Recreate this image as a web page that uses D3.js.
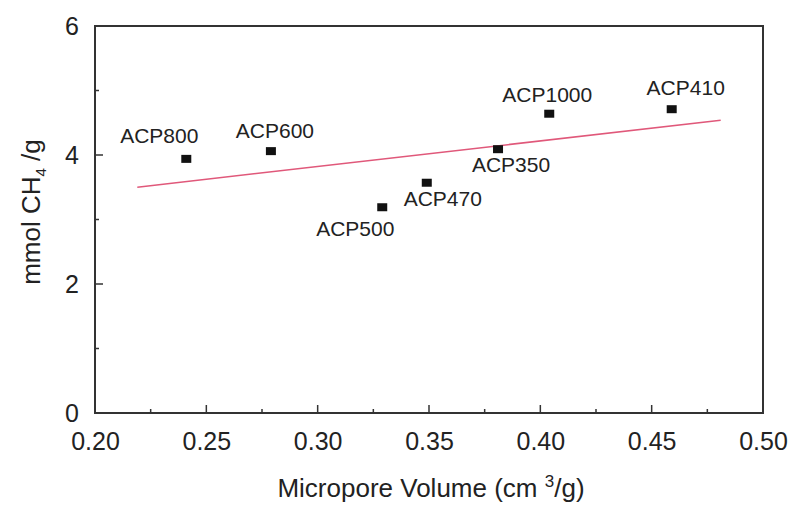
<!DOCTYPE html>
<html>
<head>
<meta charset="utf-8">
<script src="https://cdn.jsdelivr.net/npm/d3@7"></script>
<style>
  body { margin: 0; background: #fff; }
  text { font-family: "Liberation Sans", Arial, sans-serif; fill: #222; }
</style>
</head>
<body>
<div id="chart"></div>
<script>
// DATA
const samples = ["ACP800", "ACP600", "ACP500", "ACP470", "ACP350", "ACP1000", "ACP410"];
const microVolume = [0.241, 0.279, 0.329, 0.349, 0.381, 0.404, 0.459];
const ch4Uptake = [3.94, 4.06, 3.19, 3.57, 4.09, 4.64, 4.71];
// linear fit line end points
const fitX = [0.219, 0.481];
const fitY = [3.50, 4.54];
const xTicks = [0.20, 0.25, 0.30, 0.35, 0.40, 0.45, 0.50];
const yTicks = [0, 2, 4, 6];

// label placement relative to marker (px)
const labelOffset = [[-27, -16], [4, -13], [-27, 29], [16, 23], [13, 23], [-2, -12], [14, -14]];

const width = 793, height = 505;
const margin = {top: 26, right: 30, bottom: 92, left: 95};

const svg = d3.select("#chart").append("svg")
    .attr("width", width)
    .attr("height", height);

// SCALES
const xScale = d3.scaleLinear().domain([0.20, 0.50]).range([margin.left, width - margin.right]);
const yScale = d3.scaleLinear().domain([0, 6]).range([height - margin.bottom, margin.top]);

const x0 = xScale.range()[0], x1 = xScale.range()[1];
const y0 = yScale.range()[0], y1 = yScale.range()[1];

// frame
svg.append("rect")
    .attr("x", x0).attr("y", y1)
    .attr("width", x1 - x0).attr("height", y0 - y1)
    .attr("fill", "none").attr("stroke", "#333").attr("stroke-width", 2);

// AXES (ticks inside)
const xAxis = d3.axisBottom(xScale).tickValues(xTicks).tickSize(0).tickPadding(19)
    .tickFormat(d3.format(".2f"));
const xAxisGroup = svg.append("g")
    .attr("transform", `translate(0, ${y0})`)
    .call(xAxis);
xAxisGroup.select(".domain").remove();
xAxisGroup.selectAll("text").style("font-size", "25px").attr("fill", "#222");

const yAxis = d3.axisLeft(yScale).tickValues(yTicks).tickSize(0).tickPadding(16)
    .tickFormat(d3.format("d"));
const yAxisGroup = svg.append("g")
    .attr("transform", `translate(${x0}, 0)`)
    .call(yAxis);
yAxisGroup.select(".domain").remove();
yAxisGroup.selectAll("text").style("font-size", "25px").attr("fill", "#222");

// tick marks pointing inward
const xMinor = d3.range(0.225, 0.5, 0.05);
svg.append("g").selectAll("line")
    .data(xTicks.slice(1, -1).map(v => [v, 8]).concat(xMinor.map(v => [v, 4])))
    .join("line")
    .attr("x1", d => xScale(d[0])).attr("x2", d => xScale(d[0]))
    .attr("y1", y0).attr("y2", d => y0 - d[1])
    .attr("stroke", "#333").attr("stroke-width", 1.5);

const yMinor = [1, 3, 5];
svg.append("g").selectAll("line")
    .data(yTicks.slice(1, -1).map(v => [v, 8]).concat(yMinor.map(v => [v, 4])))
    .join("line")
    .attr("y1", d => yScale(d[0])).attr("y2", d => yScale(d[0]))
    .attr("x1", x0).attr("x2", d => x0 + d[1])
    .attr("stroke", "#333").attr("stroke-width", 1.5);

// FIT LINE
svg.append("line")
    .attr("x1", xScale(fitX[0])).attr("y1", yScale(fitY[0]))
    .attr("x2", xScale(fitX[1])).attr("y2", yScale(fitY[1]))
    .attr("stroke", "#e0587a").attr("stroke-width", 1.5);

// POINTS
svg.append("g").selectAll("rect")
    .data(samples)
    .join("rect")
    .attr("x", (d, i) => xScale(microVolume[i]) - 5)
    .attr("y", (d, i) => yScale(ch4Uptake[i]) - 4)
    .attr("width", 10).attr("height", 8)
    .attr("fill", "#111");

// LABELS
svg.append("g").selectAll("text")
    .data(samples)
    .join("text")
    .attr("x", (d, i) => xScale(microVolume[i]) + labelOffset[i][0])
    .attr("y", (d, i) => yScale(ch4Uptake[i]) + labelOffset[i][1])
    .attr("text-anchor", "middle")
    .style("font-size", "21px")
    .text(d => d);

// AXIS TITLES
const xt = svg.append("text")
    .attr("x", 431).attr("y", 497)
    .attr("text-anchor", "middle")
    .style("font-size", "26px");
xt.append("tspan").text("Micropore Volume (cm ");
xt.append("tspan").attr("dy", -10).style("font-size", "17px").text("3");
xt.append("tspan").attr("dy", 10).text("/g)");

const yt = svg.append("text")
    .attr("transform", "translate(40, 212) rotate(-90)")
    .attr("text-anchor", "middle")
    .style("font-size", "26px");
yt.append("tspan").text("mmol CH");
yt.append("tspan").attr("dy", 6).style("font-size", "15px").text("4");
yt.append("tspan").attr("dy", -6).text(" /g");
</script>
</body>
</html>
